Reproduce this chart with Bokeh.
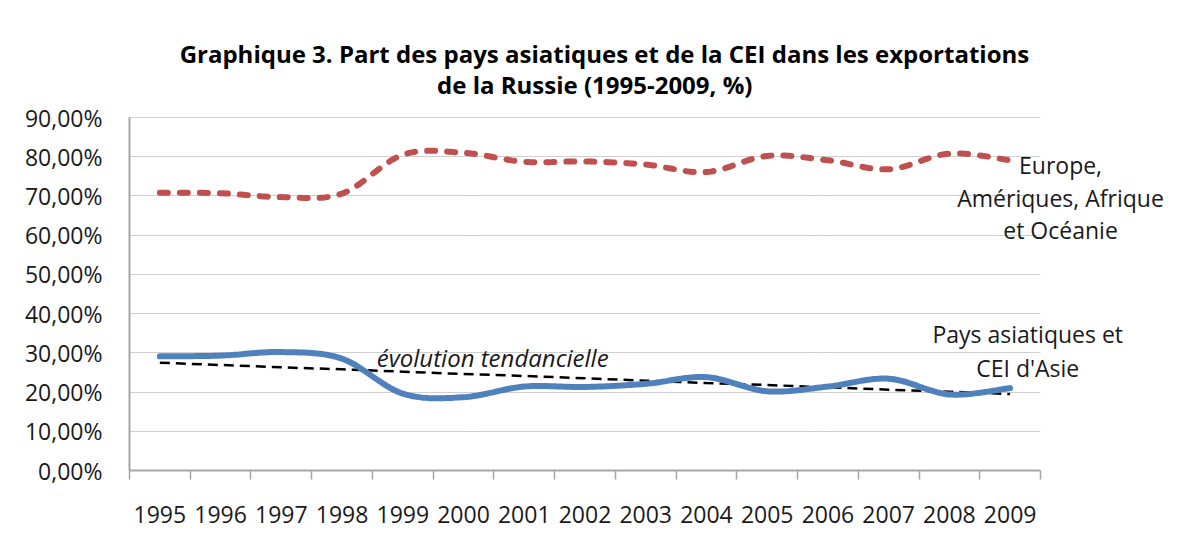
import numpy as np
from bokeh.plotting import figure
from bokeh.models import Range1d, FixedTicker, Label, BoxAnnotation
from bokeh.embed import file_html
from bokeh.resources import INLINE

# ---- data ----
years = [str(y) for y in range(1995, 2010)]
europe = [70.8, 70.7, 69.7, 70.6, 80.5, 81.0, 78.7, 78.8, 78.0, 76.1, 80.2, 79.1, 76.8, 80.8, 79.1]
asie = [29.1, 29.3, 30.2, 28.5, 19.6, 18.7, 21.4, 21.3, 22.1, 23.8, 20.2, 21.4, 23.4, 19.4, 21.0]
tendance = [27.5, 26.9, 26.3, 25.8, 25.2, 24.6, 24.1, 23.5, 22.9, 22.3, 21.8, 21.2, 20.6, 20.1, 19.5]
y_ticks = [0, 10, 20, 30, 40, 50, 60, 70, 80, 90]
y_labels = ["0,00%", "10,00%", "20,00%", "30,00%", "40,00%", "50,00%",
            "60,00%", "70,00%", "80,00%", "90,00%"]

title_lines = ["Graphique 3. Part des pays asiatiques et de la CEI dans les exportations",
               "de la Russie (1995-2009, %)"]
europe_label = ["Europe,", "Amériques, Afrique", "et Océanie"]
asie_label = ["Pays asiatiques et", "CEI d'Asie"]
trend_label = "évolution tendancielle"

FONT = "Open Sans"


def smooth(xs, ys, n=24):
    """Catmull-Rom rendering of a line through the given points (like Excel's smoothed line)."""
    xs = np.asarray(xs, float)
    ys = np.asarray(ys, float)
    px = np.concatenate([[xs[0]], xs, [xs[-1]]])
    py = np.concatenate([[ys[0]], ys, [ys[-1]]])
    ox, oy = [], []
    for i in range(1, len(px) - 2):
        t = np.linspace(0, 1, n, endpoint=False)
        for arr, out in ((px, ox), (py, oy)):
            p0, p1, p2, p3 = arr[i - 1], arr[i], arr[i + 1], arr[i + 2]
            out.extend(0.5 * ((2 * p1) + (-p0 + p2) * t
                              + (2 * p0 - 5 * p1 + 4 * p2 - p3) * t ** 2
                              + (-p0 + 3 * p1 - 3 * p2 + p3) * t ** 3))
    ox.append(xs[-1])
    oy.append(ys[-1])
    return ox, oy


xi = list(range(len(years)))
x_lo, x_hi = -0.5, len(years) - 0.5
y_lo, y_hi = y_ticks[0], y_ticks[-1]

# the frame is extended to the right and upwards so that the titles and the
# series labels (which overlap the plotting area) are not clipped
W, H = 1176, 534
LEFT, BOTTOM = 129, 64
px_per_x = 911 / (x_hi - x_lo)
px_per_y = 353 / (y_hi - y_lo)
x_end = x_lo + (W - LEFT) / px_per_x
y_end = y_lo + (H - BOTTOM) / px_per_y

p = figure(width=W, height=H, output_backend="svg", toolbar_location=None,
           x_range=Range1d(x_lo, x_end), y_range=Range1d(y_lo, y_end),
           min_border_left=LEFT, min_border_right=0, min_border_top=0, min_border_bottom=BOTTOM)
p.outline_line_color = None
p.background_fill_color = "white"
p.border_fill_color = "white"

# axes
p.xaxis.bounds = (x_lo, x_hi)
p.xaxis.ticker = FixedTicker(ticks=xi, minor_ticks=[i - 0.5 for i in range(len(years) + 1)])
p.xaxis.major_label_overrides = {i: y for i, y in enumerate(years)}
p.xaxis.major_tick_out = 0
p.xaxis.major_tick_in = 0
p.xaxis.minor_tick_out = 9
p.xaxis.minor_tick_in = 0
p.xaxis.minor_tick_line_color = "#a6a6a6"
p.xaxis.minor_tick_line_width = 1.5
p.xaxis.axis_line_color = "#a6a6a6"
p.xaxis.axis_line_width = 2
p.xaxis.major_label_text_font = FONT
p.xaxis.major_label_text_font_size = "23px"
p.xaxis.major_label_text_color = "#1a1a1a"
p.xaxis.major_label_standoff = 26

p.yaxis.bounds = (y_lo, y_hi)
p.yaxis.ticker = FixedTicker(ticks=y_ticks)
p.yaxis.major_label_overrides = {t: l for t, l in zip(y_ticks, y_labels)}
p.yaxis.major_tick_out = 0
p.yaxis.major_tick_in = 0
p.yaxis.minor_tick_line_color = None
p.yaxis.axis_line_color = "#a6a6a6"
p.yaxis.axis_line_width = 2
p.yaxis.major_label_text_font = FONT
p.yaxis.major_label_text_font_size = "23px"
p.yaxis.major_label_text_color = "#1a1a1a"
p.yaxis.major_label_standoff = 27

p.xgrid.grid_line_color = None
p.ygrid.ticker = FixedTicker(ticks=y_ticks[1:])
p.ygrid.grid_line_color = "#a0a0a0"
p.ygrid.grid_line_dash = "1 1"
p.ygrid.grid_line_width = 1
# hide the gridlines beyond the category axis end
p.add_layout(BoxAnnotation(left=x_hi, fill_color="white", fill_alpha=1,
                           line_color=None, level="underlay"))

# series
ex, ey = smooth(xi, europe)
p.line(ex, ey, line_color="#c0504d", line_width=6, line_dash="8 12", line_cap="round")
p.line(xi, tendance, line_color="black", line_width=2.5, line_dash="10 6")
ax, ay = smooth(xi, asie)
p.line(ax, ay, line_color="#4f81bd", line_width=6, line_cap="round")

# texts
for txt, xx, yy in zip(title_lines, [7.32, 7.16], [106.4, 98.3]):
    p.add_layout(Label(x=xx, y=yy, text=txt, text_align="center", text_baseline="alphabetic",
                       text_font=FONT, text_font_style="bold", text_font_size="24px",
                       text_color="black"))
for txt, yy in zip(europe_label, [78.0, 69.4, 61.2]):
    p.add_layout(Label(x=14.83, y=yy, text=txt, text_align="center", text_baseline="alphabetic",
                       text_font=FONT, text_font_size="23px", text_color="#1a1a1a"))
for txt, yy in zip(asie_label, [34.9, 26.1]):
    p.add_layout(Label(x=14.29, y=yy, text=txt, text_align="center", text_baseline="alphabetic",
                       text_font=FONT, text_font_size="23px", text_color="#1a1a1a"))
p.add_layout(Label(x=5.48, y=28.8, text=trend_label, text_align="center", text_baseline="alphabetic",
                   text_font=FONT, text_font_style="italic", text_font_size="24px", text_color="#1a1a1a"))

open("out.html", "w").write(file_html(p, INLINE))
